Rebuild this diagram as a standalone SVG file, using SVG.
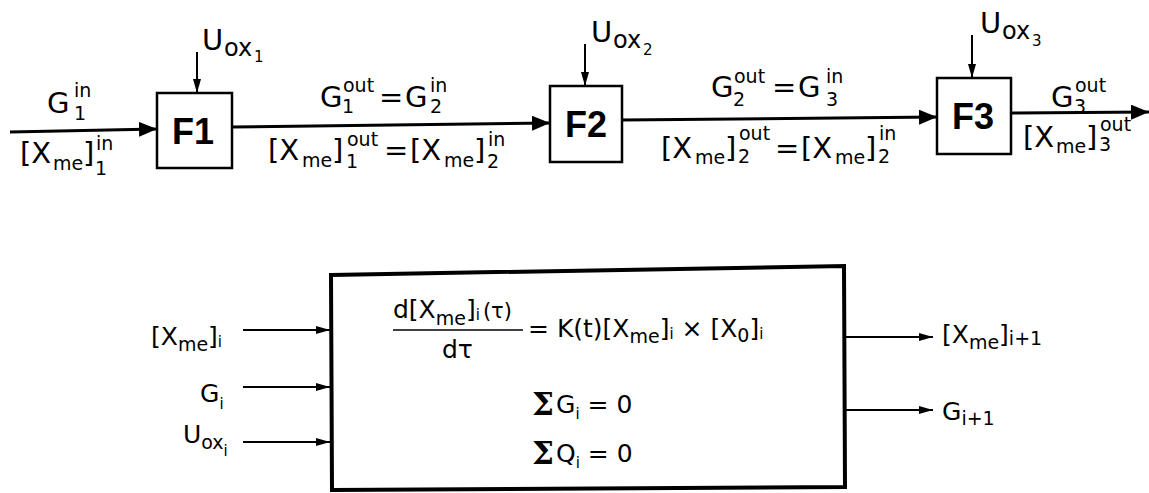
<svg xmlns="http://www.w3.org/2000/svg" width="1149" height="493" viewBox="0 0 1149 493">
<style>
text{font-family:"DejaVu Sans","Liberation Sans",sans-serif;fill:#000}
.m{font-size:29px}
.s{font-size:19px}
.b{font-size:25px}
.bs{font-size:19px}
.bss{font-size:15px}
.ox{font-size:24px}
.f{font-family:"Liberation Sans",Arial,sans-serif;font-size:36px;font-weight:bold}
.sig{font-family:"DejaVu Serif",serif;font-weight:bold;font-size:31px}
.box{fill:#fff;stroke:#000;stroke-width:2.5}
.big{fill:#fff;stroke:#000;stroke-width:4;stroke-linejoin:miter}
.thick{stroke:#000;stroke-width:3;fill:none}
.thin{stroke:#000;stroke-width:2;fill:none}
</style>
<defs>
<marker id="ah" markerWidth="6" markerHeight="5" refX="6" refY="2.5" orient="auto" markerUnits="strokeWidth">
<path d="M0,0 L6,2.5 L0,5 Z" fill="#000"/>
</marker>
<marker id="as" markerWidth="7" markerHeight="4" refX="7" refY="2" orient="auto" markerUnits="strokeWidth">
<path d="M0,0 L7,2 L0,4 Z" fill="#000"/>
</marker>
</defs>
<g id="connectors">
<line class="thick" x1="10" y1="132" x2="157" y2="129" marker-end="url(#ah)"/>
<line class="thick" x1="232" y1="127" x2="550" y2="123" marker-end="url(#ah)"/>
<line class="thick" x1="622" y1="120" x2="937" y2="117" marker-end="url(#ah)"/>
<line class="thick" x1="1011" y1="113" x2="1149" y2="112" marker-end="url(#ah)"/>
<line class="thin" x1="197" y1="52" x2="197" y2="93" marker-end="url(#as)"/>
<line class="thin" x1="585" y1="44" x2="585" y2="86" marker-end="url(#as)"/>
<line class="thin" x1="972" y1="35" x2="972" y2="78" marker-end="url(#as)"/>
<line class="thin" x1="243" y1="330" x2="330" y2="330" marker-end="url(#as)"/>
<line class="thin" x1="243" y1="387" x2="330" y2="387" marker-end="url(#as)"/>
<line class="thin" x1="243" y1="442" x2="330" y2="442" marker-end="url(#as)"/>
<line class="thin" x1="845" y1="337" x2="933" y2="337" marker-end="url(#as)"/>
<line class="thin" x1="845" y1="410" x2="933" y2="410" marker-end="url(#as)"/>
</g>
<g id="F1">
<rect class="box" x="157" y="93" width="75" height="75"/>
<text class="f" x="193" y="144" text-anchor="middle">F1</text>
</g>
<g id="F2">
<rect class="box" x="550" y="86" width="72" height="76"/>
<text class="f" x="586" y="137" text-anchor="middle">F2</text>
</g>
<g id="F3">
<rect class="box" x="937" y="78" width="74" height="76"/>
<text class="f" x="973" y="129" text-anchor="middle">F3</text>
</g>
<g id="labels-top">
<text class="m"><tspan x="202" y="50">U</tspan><tspan class="ox" x="224" y="56">ox</tspan><tspan class="bss" x="254" y="62">1</tspan></text>
<text class="m"><tspan x="591" y="42">U</tspan><tspan class="ox" x="613" y="48">ox</tspan><tspan class="bss" x="643" y="55">2</tspan></text>
<text class="m"><tspan x="980" y="33">U</tspan><tspan class="ox" x="1002" y="39">ox</tspan><tspan class="bss" x="1032" y="46">3</tspan></text>
<text class="m"><tspan x="47" y="113">G</tspan><tspan class="s" x="74" y="97">in</tspan><tspan class="s" x="74" y="120">1</tspan></text>
<text class="m"><tspan x="20" y="163">[X</tspan><tspan class="s" x="53" y="170">me</tspan><tspan x="83" y="163">]</tspan><tspan class="s" x="96" y="150">in</tspan><tspan class="s" x="95" y="175">1</tspan></text>
<text class="m"><tspan x="320" y="107">G</tspan><tspan class="s" x="343" y="92">out</tspan><tspan class="s" x="342" y="113">1</tspan><tspan x="379" y="107">=</tspan><tspan x="405" y="107">G</tspan><tspan class="s" x="430" y="92">in</tspan><tspan class="s" x="430" y="113">2</tspan></text>
<text class="m"><tspan x="268" y="160">[X</tspan><tspan class="s" x="302" y="167">me</tspan><tspan x="332" y="160">]</tspan><tspan class="s" x="347" y="146">out</tspan><tspan class="s" x="346" y="168">1</tspan><tspan x="384" y="160">=</tspan><tspan x="410" y="160">[X</tspan><tspan class="s" x="444" y="167">me</tspan><tspan x="474" y="160">]</tspan><tspan class="s" x="488" y="146">in</tspan><tspan class="s" x="487" y="168">2</tspan></text>
<text class="m"><tspan x="711" y="97">G</tspan><tspan class="s" x="734" y="83">out</tspan><tspan class="s" x="733" y="106">2</tspan><tspan x="772" y="97">=</tspan><tspan x="798" y="97">G</tspan><tspan class="s" x="826" y="83">in</tspan><tspan class="s" x="826" y="106">3</tspan></text>
<text class="m"><tspan x="661" y="158">[X</tspan><tspan class="s" x="695" y="164">me</tspan><tspan x="725" y="158">]</tspan><tspan class="s" x="739" y="140">out</tspan><tspan class="s" x="738" y="163">2</tspan><tspan x="775" y="158">=</tspan><tspan x="801" y="158">[X</tspan><tspan class="s" x="835" y="164">me</tspan><tspan x="865" y="158">]</tspan><tspan class="s" x="879" y="140">in</tspan><tspan class="s" x="878" y="163">2</tspan></text>
<text class="m"><tspan x="1051" y="107">G</tspan><tspan class="s" x="1075" y="92">out</tspan><tspan class="s" x="1074" y="113">3</tspan></text>
<text class="m"><tspan x="1023" y="147">[X</tspan><tspan class="s" x="1056" y="153">me</tspan><tspan x="1086" y="147">]</tspan><tspan class="s" x="1100" y="131">out</tspan><tspan class="s" x="1099" y="151">3</tspan></text>
</g>
<g id="model-box">
<polygon class="big" points="331,275 844,266 845,487 332,490"/>
<text class="b"><tspan x="393" y="318">d[X</tspan><tspan class="bs" y="325">me</tspan><tspan y="318">]</tspan><tspan class="bss" y="320">i</tspan><tspan dx="3" y="318" font-size="21">(τ)</tspan></text>
<line x1="393" y1="330" x2="523" y2="330" stroke="#000" stroke-width="1.5"/>
<text class="b" x="442" y="358">dτ</text>
<text class="b"><tspan x="528" y="337">= K(t)[X</tspan><tspan class="bs" y="343">me</tspan><tspan y="337">]</tspan><tspan class="bss" y="339">i</tspan><tspan y="337"> × [X</tspan><tspan class="bs" y="342">0</tspan><tspan y="337">]</tspan><tspan class="bss" y="339">i</tspan></text>
<text class="b"><tspan class="sig" x="532" y="415">Σ</tspan><tspan x="556" y="413">G</tspan><tspan class="bss" y="419">i</tspan><tspan y="413"> = 0</tspan></text>
<text class="b"><tspan class="sig" x="532" y="464">Σ</tspan><tspan x="556" y="462">Q</tspan><tspan class="bss" y="468">i</tspan><tspan y="462"> = 0</tspan></text>
</g>
<g id="io-labels">
<text class="b"><tspan x="151" y="345">[X</tspan><tspan class="bs" y="351">me</tspan><tspan y="345">]</tspan><tspan class="bss" y="347">i</tspan></text>
<text class="b"><tspan x="200" y="402">G</tspan><tspan class="bss" y="409">i</tspan></text>
<text class="b"><tspan x="183" y="443">U</tspan><tspan class="bs" y="449">ox</tspan><tspan class="bss" y="456">i</tspan></text>
<text class="b"><tspan x="942" y="343">[X</tspan><tspan class="bs" y="349">me</tspan><tspan y="343">]</tspan><tspan class="bs" y="345">i+1</tspan></text>
<text class="b"><tspan x="942" y="420">G</tspan><tspan class="bs" y="425">i+1</tspan></text>
</g>
</svg>
